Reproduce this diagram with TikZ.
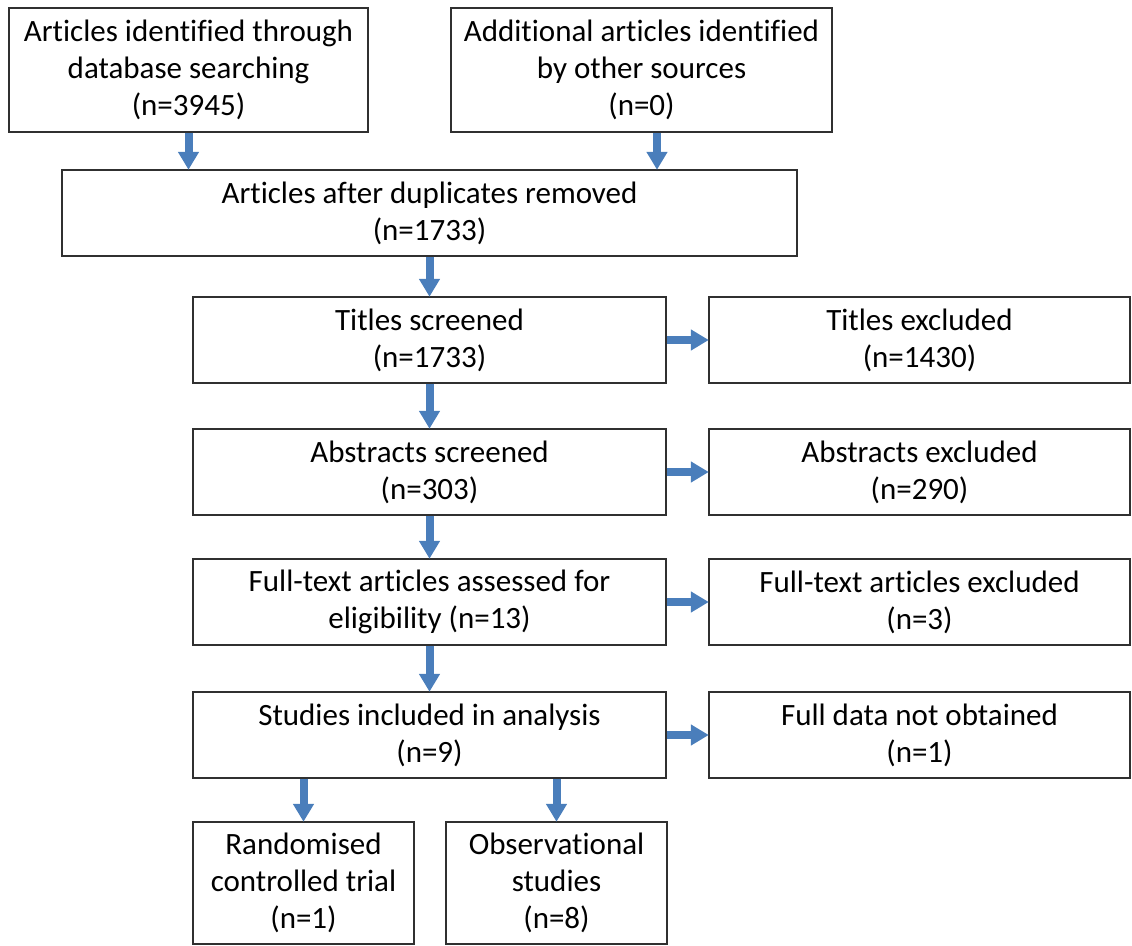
\documentclass[tikz,border=0pt]{standalone}
\usepackage{fontspec}
\setmainfont{Carlito}[Ligatures=NoCommon]
\usetikzlibrary{arrows.meta}
\definecolor{boxline}{HTML}{303030}
\definecolor{arrblue}{HTML}{4A7EBB}
\begin{document}
\begin{tikzpicture}[x=1pt,y=-1pt,
  box/.style={draw=boxline, line width=1.4pt, fill=white, align=center, inner sep=0pt,
    font=\fontsize{31}{37}\selectfont},
  arr/.style={draw=arrblue, line width=8pt, -{Triangle[width=20pt,length=18pt]}, shorten >=-0.5pt}]
\useasboundingbox (0,0) rectangle (1132,945);
\node[box, minimum width=359pt, minimum height=124pt] (b1) at (188.5,70) {Articles identified through\\database searching\\(n=3945)};
\node[box, minimum width=381pt, minimum height=124pt] (b2) at (641.5,70) {Additional articles identified\\by other sources\\(n=0)};
\node[box, minimum width=735pt, minimum height=86pt] (b3) at (429.5,213) {Articles after duplicates removed\\(n=1733)};
\node[box, minimum width=473pt, minimum height=86pt] (b4) at (429.5,340) {Titles screened\\(n=1733)};
\node[box, minimum width=421pt, minimum height=86pt] (b5) at (919.5,340) {Titles excluded\\(n=1430)};
\node[box, minimum width=473pt, minimum height=86pt] (b6) at (429.5,472) {Abstracts screened\\(n=303)};
\node[box, minimum width=421pt, minimum height=86pt] (b7) at (919.5,472) {Abstracts excluded\\(n=290)};
\node[box, minimum width=473pt, minimum height=86pt] (b8) at (429.5,602) {Full-text articles assessed for\\eligibility (n=13)};
\node[box, minimum width=421pt, minimum height=86pt] (b9) at (919.5,602) {Full-text articles excluded\\(n=3)};
\node[box, minimum width=473pt, minimum height=86pt] (b10) at (429.5,735) {Studies included in analysis\\(n=9)};
\node[box, minimum width=421pt, minimum height=86pt] (b11) at (919.5,735) {Full data not obtained\\(n=1)};
\node[box, minimum width=221pt, minimum height=122pt] (b12) at (303.5,883) {Randomised\\controlled trial\\(n=1)};
\node[box, minimum width=221pt, minimum height=122pt] (b13) at (556.5,883) {Observational\\studies\\(n=8)};
\coordinate (c2) at (657,0);
\draw[arr] (b1.south) -- (b1.south |- b3.north);
\draw[arr] (b2.south -| c2) -- (b3.north -| c2);
\draw[arr] (b3.south) -- (b4.north);
\draw[arr] (b4.east) -- (b5.west);
\draw[arr] (b4.south) -- (b6.north);
\draw[arr] (b6.east) -- (b7.west);
\draw[arr] (b6.south) -- (b8.north);
\draw[arr] (b8.east) -- (b9.west);
\draw[arr] (b8.south) -- (b10.north);
\draw[arr] (b10.east) -- (b11.west);
\draw[arr] (b10.south -| b12.north) -- (b12.north);
\draw[arr] (b10.south -| b13.north) -- (b13.north);
\end{tikzpicture}
\end{document}
